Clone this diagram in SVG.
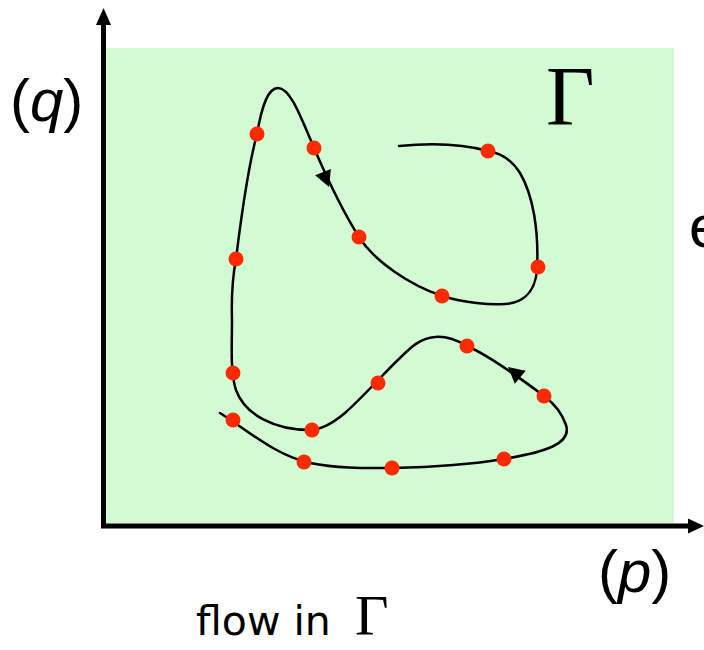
<svg xmlns="http://www.w3.org/2000/svg" width="704" height="650" viewBox="0 0 704 650">
<style>
.axis{stroke:#000;stroke-width:5;fill:none}
.flow{stroke:#000;stroke-width:2.5;fill:none;stroke-linecap:round}
.dot{fill:#ff2a00}
.lbl{font-family:"Liberation Sans",Arial,sans-serif;font-size:60px;fill:#000}
.gam{font-family:"Liberation Serif","Times New Roman",serif;fill:#000}
.cap{font-family:"DejaVu Sans",Verdana,sans-serif;font-size:41px;fill:#000}
</style>
<defs>
<path id="ah" d="M0,0 L-16,-8.5 L-16,8.5 Z" fill="#000"/>
</defs>
<rect id="gamma-region" x="106" y="48" width="568" height="475" fill="#d3fbd3"/>
<g id="axes">
<line class="axis" x1="103.5" y1="528" x2="103.5" y2="22"/>
<polygon points="103.5,8 96,25 111,25" fill="#000"/>
<line class="axis" x1="101" y1="526" x2="690" y2="526"/>
<polygon points="704,526 688,518.5 688,533.5" fill="#000"/>
</g>
<g id="trajectory">
<path class="flow" d="M220,413 C250,432 275,455 310,463 C340,469 370,468 392,468 C440,467 480,463 504,459 C545,452 572,444 566,425 C561,410 552,402 544,396 C520,378 490,356 467,346 C455,339 445,336 435,337 C420,338 410,348 400,358 C385,372 365,395 345,413 C333,423 322,430 310,430 C275,430 245,415 236,390 C230,372 232,345 232,320 C231,290 233,275 236,259 C242,210 250,160 257,134 C262,105 268,88 278,88 C290,88 300,115 314,148 C330,185 345,215 359,237 C375,262 410,285 442,296 C465,303 490,305 505,304 C520,303 535,295 537,270 C539,230 533,195 520,173 C512,160 500,153 488,151 C470,146 440,142 399,146"/>
<use href="#ah" transform="translate(329,187) rotate(68)"/>
<use href="#ah" transform="translate(508,367) rotate(220)"/>
</g>
<g id="points">
<circle class="dot" cx="257" cy="134" r="7.5"/>
<circle class="dot" cx="314" cy="148" r="7.5"/>
<circle class="dot" cx="359" cy="237" r="7.5"/>
<circle class="dot" cx="236" cy="259" r="7.5"/>
<circle class="dot" cx="488" cy="151" r="7.5"/>
<circle class="dot" cx="538" cy="267" r="7.5"/>
<circle class="dot" cx="442" cy="296" r="7.5"/>
<circle class="dot" cx="233" cy="373" r="7.5"/>
<circle class="dot" cx="312" cy="430" r="7.5"/>
<circle class="dot" cx="378" cy="383" r="7.5"/>
<circle class="dot" cx="233" cy="420" r="7.5"/>
<circle class="dot" cx="304" cy="462" r="7.5"/>
<circle class="dot" cx="392" cy="468" r="7.5"/>
<circle class="dot" cx="467" cy="346" r="7.5"/>
<circle class="dot" cx="544" cy="396" r="7.5"/>
<circle class="dot" cx="504" cy="459" r="7.5"/>
</g>
<g id="labels">
<text class="lbl" x="10" y="121">(<tspan font-style="italic">q</tspan>)</text>
<text class="lbl" x="598" y="592">(<tspan font-style="italic">p</tspan>)</text>
<text class="gam" x="546" y="125" font-size="84">Γ</text>
<text class="lbl" x="689" y="247" font-size="56">e</text>
<text class="cap" x="196" y="635">flow in</text>
<text class="gam" x="355" y="635" font-size="58">Γ</text>
</g>
</svg>
